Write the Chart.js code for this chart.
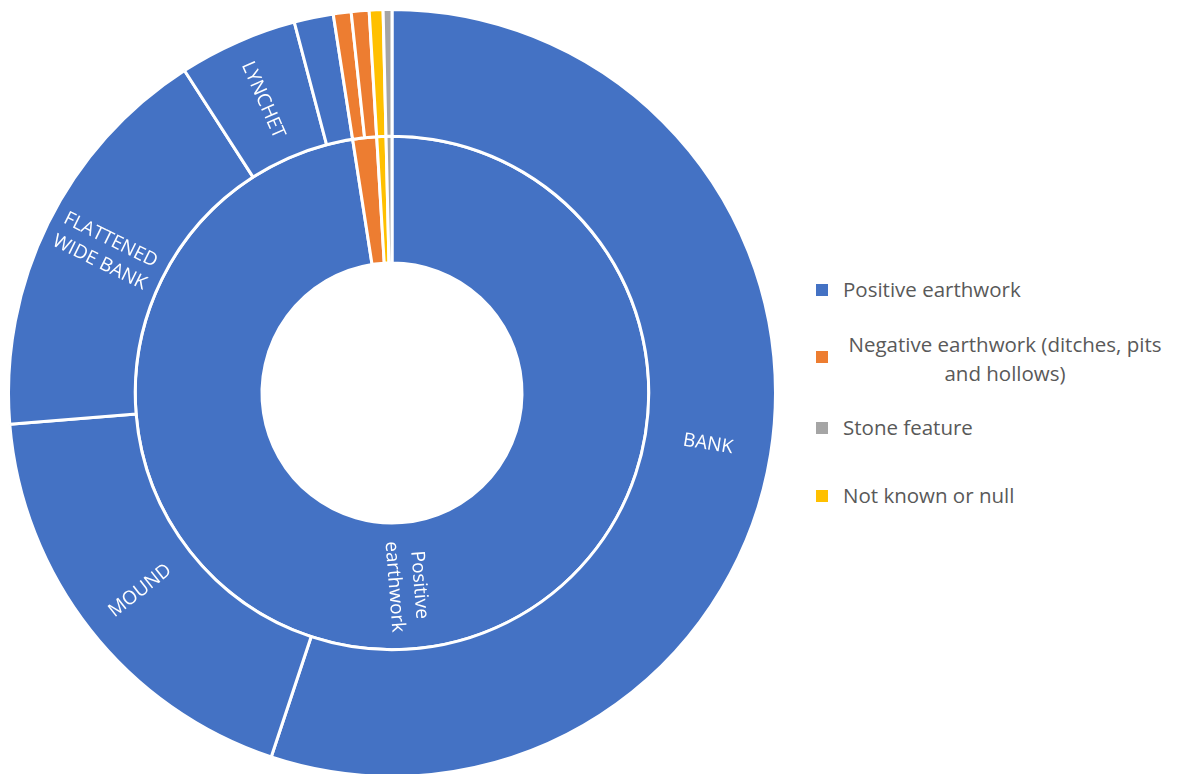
<!DOCTYPE html>
<html>
<head>
<meta charset="utf-8">
<script src="https://cdn.jsdelivr.net/npm/chart.js@4"></script>
<style>
  html, body { margin: 0; padding: 0; background: #fff; overflow: hidden; }
  body { width: 1177px; height: 774px; position: relative; font-family: "Open Sans", sans-serif; }
  #wrap { position: absolute; left: 7px; top: 8px; width: 770px; height: 770px; }
  .leg { position: absolute; color: #595959; font-size: 20.5px; line-height: 29px; }
  .leg .sw { position: absolute; width: 12px; height: 12px; }
  .leg .tx { position: absolute; white-space: nowrap; }
</style>
</head>
<body>
<div id="wrap"><canvas id="c"></canvas></div>
<div id="legend"></div>
<script>
// inner ring: feature type
const innerLabels = [
  "Positive earthwork",
  "Negative earthwork (ditches, pits and hollows)",
  "Not known or null",
  "Stone feature",
];
const innerValues = [97.55, 1.5, 0.58, 0.37];

// outer ring: feature form (clockwise from 12 o'clock)
const outerLabels = ["BANK", "MOUND", "FLATTENED WIDE BANK", "LYNCHET", "", "", "", "", ""];
const outerValues = [55.1, 18.6, 17.2, 5.0, 1.65, 0.75, 0.75, 0.58, 0.37];
const outerParent = [0, 0, 0, 0, 0, 1, 1, 2, 3];

const colors = ["#4472C4", "#ED7D31", "#FFC000", "#A5A5A5"];

// legend order as in the source
const legendOrder = [0, 1, 3, 2];

const ringLabels = {
  id: "ringLabels",
  afterDatasetsDraw(chart) {
    const ctx = chart.ctx;
    const sets = [
      { meta: chart.getDatasetMeta(0), text: outerLabels.map((l) => {
          if (l === "FLATTENED WIDE BANK") return ["FLATTENED", "WIDE BANK"];
          return l ? [l] : null;
        }) },
      { meta: chart.getDatasetMeta(1), text: innerLabels.map((l, i) => i === 0 ? ["Positive", "earthwork"] : null) },
    ];
    ctx.save();
    ctx.fillStyle = "#fff";
    ctx.font = "19px 'Open Sans'";
    ctx.textAlign = "center";
    ctx.textBaseline = "middle";
    sets.forEach((s) => {
      s.meta.data.forEach((arc, i) => {
        const lines = s.text[i];
        if (!lines) return;
        const p = arc.getProps(["x", "y", "startAngle", "endAngle", "innerRadius", "outerRadius"]);
        const a = (p.startAngle + p.endAngle) / 2;
        const r = (p.innerRadius + p.outerRadius) / 2;
        let rot = a;
        // keep text readable
        while (rot > Math.PI) rot -= 2 * Math.PI;
        while (rot < -Math.PI) rot += 2 * Math.PI;
        if (rot > Math.PI / 2 || rot < -Math.PI / 2) rot += Math.PI;
        ctx.save();
        ctx.translate(p.x + Math.cos(a) * r, p.y + Math.sin(a) * r);
        ctx.rotate(rot);
        const lh = 25;
        lines.forEach((ln, k) => {
          ctx.fillText(ln, 0, (k - (lines.length - 1) / 2) * lh);
        });
        ctx.restore();
      });
    });
    ctx.restore();
  },
};

new Chart(document.getElementById("c"), {
  type: "doughnut",
  data: {
    labels: outerLabels,
    datasets: [
      {
        data: outerValues,
        backgroundColor: outerParent.map((p) => colors[p]),
        borderColor: "#fff",
        borderWidth: 3,
      },
      {
        data: innerValues,
        backgroundColor: colors,
        borderColor: "#fff",
        borderWidth: 3,
      },
    ],
  },
  options: {
    responsive: true,
    maintainAspectRatio: false,
    animation: false,
    cutout: "33.9%",
    plugins: {
      legend: { display: false },
      tooltip: { enabled: false },
    },
  },
  plugins: [ringLabels],
});

// legend
const legPos = [
  { y: 290, sq: 290 },
  { y: 359, sq: 357, center: 1005, w: 340 },
  { y: 428, sq: 428 },
  { y: 496, sq: 496 },
];
const legend = document.getElementById("legend");
legendOrder.forEach((idx, k) => {
  const pos = legPos[k];
  const item = document.createElement("div");
  item.className = "leg";
  const sw = document.createElement("div");
  sw.className = "sw";
  sw.style.background = colors[idx];
  sw.style.left = "816px";
  sw.style.top = pos.sq - 6 + "px";
  item.appendChild(sw);
  const tx = document.createElement("div");
  tx.className = "tx";
  if (pos.center) {
    tx.style.whiteSpace = "normal";
    tx.style.textAlign = "center";
    tx.style.width = pos.w + "px";
    tx.style.left = pos.center - pos.w / 2 + "px";
    tx.style.top = pos.y - 29 + "px";
    tx.innerHTML = "Negative earthwork (ditches, pits<br>and hollows)";
  } else {
    tx.style.left = "843px";
    tx.style.top = pos.y - 15 + "px";
    tx.textContent = innerLabels[idx];
  }
  item.appendChild(tx);
  legend.appendChild(item);
});
</script>
</body>
</html>
